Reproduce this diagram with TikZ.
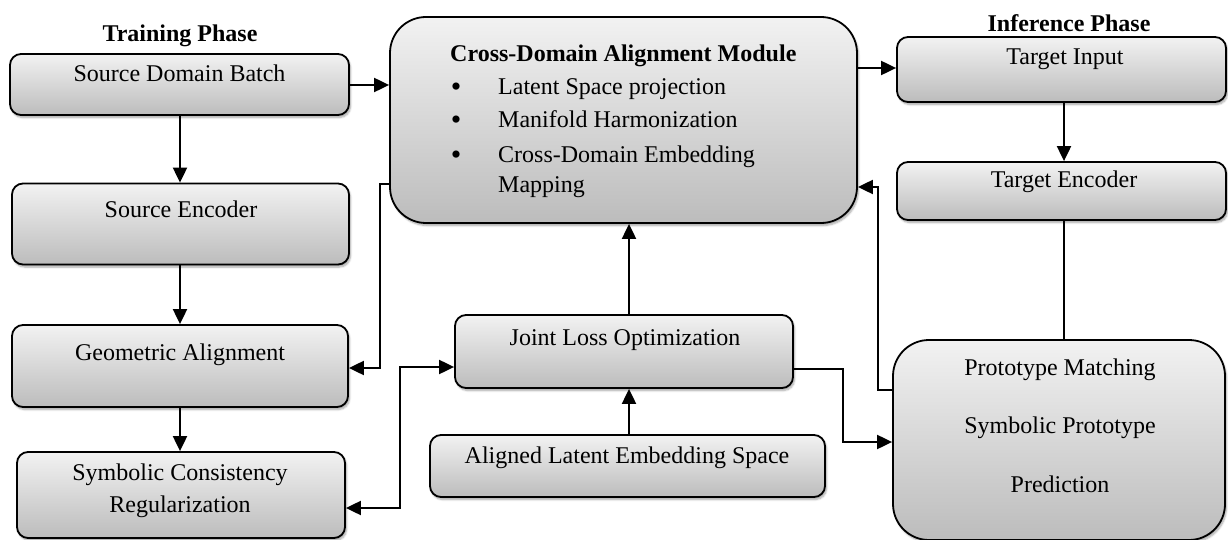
\documentclass[tikz,border=0pt]{standalone}
\usepackage{fontspec}
\setmainfont{Liberation Serif}
\usetikzlibrary{arrows.meta,shadows.blur}
\definecolor{boxtop}{RGB}{242,242,242}
\definecolor{boxbot}{RGB}{188,188,188}
\newcommand\dfs{\fontsize{24}{28}\selectfont}
\tikzset{
  box/.style={draw=black, line width=1.8pt, rounded corners=11pt,
    top color=boxtop, bottom color=boxbot, inner sep=0pt,
    blur shadow={shadow xshift=1.5pt, shadow yshift=-2.5pt, shadow blur steps=6, shadow opacity=35}},
  bigbox/.style={box, rounded corners=36pt},
  txt/.style={anchor=base, inner sep=0pt, font=\dfs},
  ttl/.style={anchor=base, inner sep=0pt, font=\dfs\bfseries},
  conn/.style={line width=2pt, -{Triangle[length=15pt,width=14pt]}},
  conn2/.style={line width=2pt, {Triangle[length=15pt,width=14pt]}-{Triangle[length=15pt,width=14pt]}},
  plain/.style={line width=2pt},
  bul/.style={anchor=base, inner sep=0pt, font=\fontsize{30}{30}\selectfont},
}
\begin{document}
\begin{tikzpicture}[x=1pt,y=-1pt]
\useasboundingbox (0,0) rectangle (1228,540);

% boxes
\node[box, minimum width=339pt, minimum height=61pt] (sdb) at (179.5,84.5) {};
\node[box, minimum width=337pt, minimum height=81pt] (senc) at (180.5,224) {};
\node[box, minimum width=336pt, minimum height=82pt] (geo) at (180,366) {};
\node[box, minimum width=328pt, minimum height=86pt] (sym) at (181,495) {};
\node[bigbox, minimum width=467pt, minimum height=206pt] (cdam) at (623.5,120) {};
\node[box, minimum width=329pt, minimum height=65pt] (tin) at (1061.5,69.5) {};
\node[box, minimum width=329pt, minimum height=58pt] (tenc) at (1061.5,191) {};
\node[box, minimum width=338pt, minimum height=73pt] (jlo) at (624,351.5) {};
\node[box, minimum width=395pt, minimum height=62pt] (ales) at (627.5,466) {};
\node[bigbox, minimum width=332pt, minimum height=200pt] (proto) at (1059,440) {};

% texts
\node[ttl] (tph) at (180,42) {Training Phase};
\node[ttl] (iph) at (1069,32) {Inference Phase};
\node[txt] (tsdb) at (179.5,82) {Source Domain Batch};
\node[txt] (tsenc) at (181,218) {Source Encoder};
\node[txt] (tgeo) at (180,360) {Geometric Alignment};
\node[txt] (tsym1) at (180,480) {Symbolic Consistency};
\node[txt] (tsym2) at (180,512) {Regularization};
\node[ttl, anchor=base west] (tcd) at (450,62) {Cross-Domain Alignment Module};
\node[bul] (bu1) at (456,97) {•};
\node[bul] (bu2) at (456,130) {•};
\node[bul] (bu3) at (456,165) {•};
\node[txt, anchor=base west] (l1) at (498,95) {Latent Space projection};
\node[txt, anchor=base west] (l2) at (498,128) {Manifold Harmonization};
\node[txt, anchor=base west] (l3) at (498,163) {Cross-Domain Embedding};
\node[txt, anchor=base west] (l4) at (498,193) {Mapping};
\node[txt] (ttin) at (1065,65) {Target Input};
\node[txt] (ttenc) at (1064,188) {Target Encoder};
\node[txt] (tjlo) at (625,345) {Joint Loss Optimization};
\node[txt] (tales) at (627,463) {Aligned Latent Embedding Space};
\node[txt] (tp1) at (1060,375) {Prototype Matching};
\node[txt] (tp2) at (1060,433) {Symbolic Prototype};
\node[txt] (tp3) at (1060,492) {Prediction};

% bend coordinates
\coordinate (k0) at (180,0);
\coordinate (k1) at (380,184);
\coordinate (k2) at (380,368);
\coordinate (k3) at (400,508);
\coordinate (k4) at (400,367);
\coordinate (k5) at (0,85);
\coordinate (k6) at (629,0);
\coordinate (k7) at (843,369);
\coordinate (k8) at (843,442);
\coordinate (k9) at (878,390);
\coordinate (k10) at (878,187);
\coordinate (k11) at (0,68);
\coordinate (k12) at (1064,0);

% connectors
\draw[conn] (sdb.east |- k5) -- (k5 -| cdam.west);
\draw[conn] (k0 |- sdb.south) -- (k0 |- senc.north);
\draw[conn] (k0 |- senc.south) -- (k0 |- geo.north);
\draw[conn] (k0 |- geo.south) -- (k0 |- sym.north);
\draw[conn] (cdam.west |- k1) -- (k1) -- (k2) -- (k2 -| geo.east);
\draw[conn2] (k3 -| sym.east) -- (k3) -- (k4) -- (k4 -| jlo.west);
\draw[conn] (k6 |- ales.north) -- (k6 |- jlo.south);
\draw[conn] (k6 |- jlo.north) -- (k6 |- cdam.south);
\draw[conn] (jlo.east |- k7) -- (k7) -- (k8) -- (k8 -| proto.west);
\draw[conn] (proto.west |- k9) -- (k9) -- (k10) -- (k10 -| cdam.east);
\draw[conn] (cdam.east |- k11) -- (k11 -| tin.west);
\draw[conn] (k12 |- tin.south) -- (k12 |- tenc.north);
\draw[plain] (k12 |- tenc.south) -- (k12 |- proto.north);
\end{tikzpicture}
\end{document}
